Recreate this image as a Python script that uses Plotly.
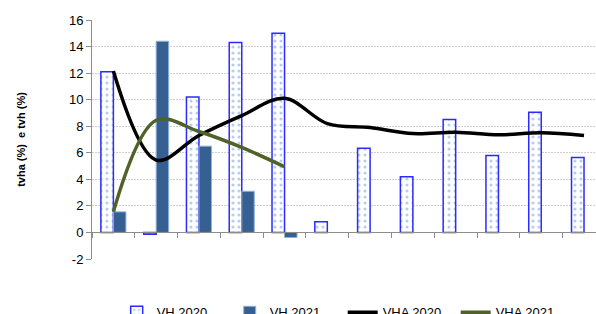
import plotly.graph_objects as go

categories = ["Jan", "Fev", "Mar", "Abr", "Mai", "Jun", "Jul", "Ago", "Set", "Out", "Nov", "Dez"]
vh_2020 = [12.1, -0.13, 10.2, 14.3, 15.0, 0.8, 6.35, 4.2, 8.5, 5.8, 9.05, 5.65]
vh_2021 = [1.55, 14.4, 6.5, 3.1, -0.38, None, None, None, None, None, None, None]
vha_2020 = [12.15, 5.45, 7.3, 8.8, 10.1, 8.2, 7.9, 7.45, 7.55, 7.35, 7.5, 7.3]
vha_2021 = [1.55, 8.45, 7.6, 6.4, 4.95, None, None, None, None, None, None, None]
y_ticks = [-2, 0, 2, 4, 6, 8, 10, 12, 14, 16]
y_tick_text = ["-2", "0", "2", "4", "6", "8", "10", "12", "14", "16"]

font_family = "Liberation Sans"

fig = go.Figure()
fig.add_trace(go.Bar(
    name="VH 2020", x=categories, y=vh_2020,
    marker=dict(color="white", line=dict(color="#2b2bff", width=1.5),
                pattern=dict(shape=".", fgcolor="#6f9be0", bgcolor="white", size=6, solidity=0.22)),
))
fig.add_trace(go.Bar(
    name="VH 2021", x=categories, y=vh_2021,
    marker=dict(color="#376092", line=dict(color="#8fb0d8", width=1)),
))
fig.add_trace(go.Scatter(
    name="VHA 2020", x=categories, y=vha_2020, mode="lines",
    line=dict(color="black", width=3.5, shape="spline", smoothing=1.0),
))
fig.add_trace(go.Scatter(
    name="VHA 2021", x=categories, y=vha_2021, mode="lines",
    line=dict(color="#4f6228", width=3.5, shape="spline", smoothing=1.0),
))

fig.update_layout(
    width=596, height=314,
    margin=dict(l=92, r=0, t=20, b=55),
    paper_bgcolor="white", plot_bgcolor="white",
    barmode="group", bargap=0.415, bargroupgap=0,
    font=dict(family=font_family, size=12, color="#000000"),
    showlegend=True,
    legend=dict(orientation="h", x=0.049, xanchor="left", yref="container", y=0.053, yanchor="top",
                entrywidth=68, font=dict(size=13, color="#000000"),
                bgcolor="rgba(0,0,0,0)", tracegroupgap=0),
    xaxis=dict(
        type="category", range=[-0.5, 11.28], anchor="free", position=2 / 18,
        showticklabels=False, ticks="outside", tickson="boundaries", ticklen=5,
        tickcolor="#8c8c8c", showline=True, linecolor="#8c8c8c", linewidth=1,
        showgrid=False, zeroline=False,
    ),
    yaxis=dict(
        range=[-2, 16], tickvals=y_ticks, ticktext=y_tick_text, ticks="outside", ticklen=5,
        tickcolor="#8c8c8c", showline=True, linecolor="#8c8c8c", linewidth=1,
        showgrid=True, gridcolor="#cfcfcf", griddash="2px,1px", gridwidth=1,
        zeroline=False, tickfont=dict(size=13, color="#000000"),
        title=dict(text="<b>tvha (%)  e tvh (%)</b>", font=dict(size=11, color="#000000"), standoff=41),
    ),
)

fig.write_html("out.html", config={"displayModeBar": False},
               post_script="document.body.style.margin='0';document.body.style.overflow='hidden';")
